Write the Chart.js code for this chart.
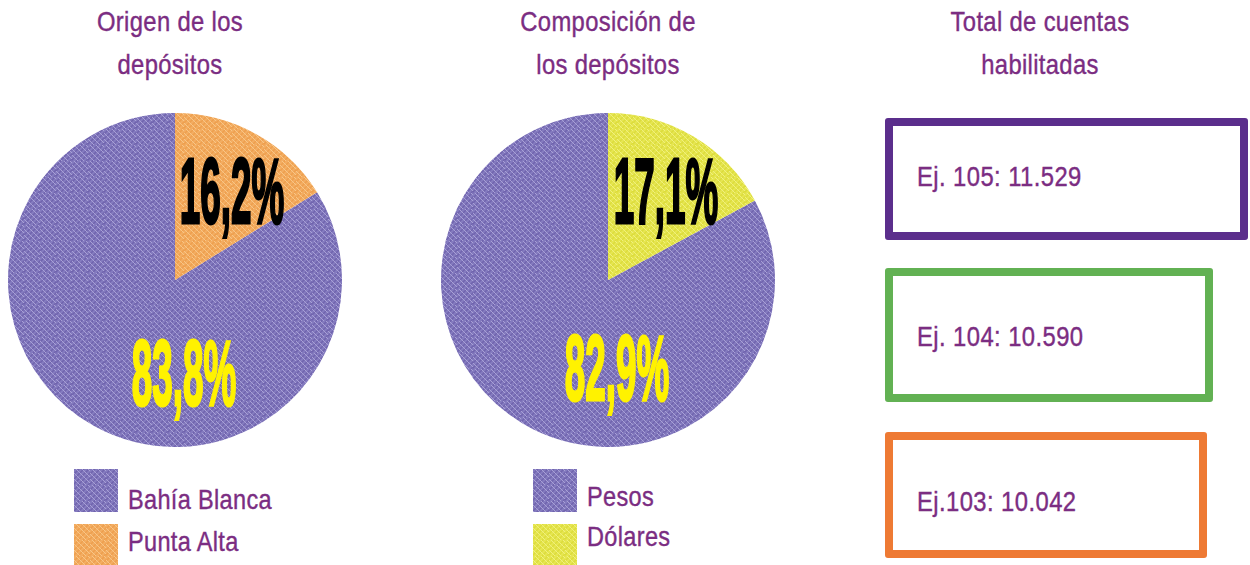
<!DOCTYPE html>
<html>
<head>
<meta charset="utf-8">
<script src="https://cdn.jsdelivr.net/npm/chart.js@4/dist/chart.umd.min.js"></script>
<style>
  body { margin: 0; background: #fff; width: 1250px; height: 565px; overflow: hidden; position: relative;
         font-family: "Liberation Sans Narrow", "Liberation Sans", sans-serif; color: #7b2d82; -webkit-text-stroke: 0.4px #7b2d82; }
  .title { position: absolute; width: 320px; text-align: center; font-size: 28px; line-height: 43px; letter-spacing: 0.4px;
           transform: scaleX(0.85); transform-origin: 50% 0; }
  .pie { position: absolute; width: 334px; height: 334px; }
  .legend { position: absolute; }
  .sw { position: absolute; width: 44px; height: 43px; }
  .lt { position: absolute; font-size: 28px; letter-spacing: 0.4px; white-space: nowrap; transform: scaleX(0.84); transform-origin: 0 0; }
  .box { position: absolute; box-sizing: border-box; border: 8px solid; border-radius: 3px; }
  .box span { position: absolute; left: 24px; font-size: 28px; letter-spacing: 0.5px; white-space: nowrap; transform: scaleX(0.85); transform-origin: 0 0; }
</style>
</head>
<body>
<div class="title" style="left:10px;top:0px">Origen de los<br>depósitos</div>
<div class="title" style="left:448px;top:0px">Composición de<br>los depósitos</div>
<div class="title" style="left:880px;top:0px">Total de cuentas<br>habilitadas</div>

<div class="pie" style="left:8px;top:113px"><canvas id="origen"></canvas></div>
<div class="pie" style="left:441px;top:113px"><canvas id="composicion"></canvas></div>

<div id="legendOrigen" class="legend" style="left:74px;top:469px"></div>
<div id="legendComposicion" class="legend" style="left:533px;top:469px"></div>

<div id="cuentas"></div>

<script>
const origenLabels = ['Bahía Blanca', 'Punta Alta'];
const origenValues = [83.8, 16.2];
const composicionLabels = ['Pesos', 'Dólares'];
const composicionValues = [82.9, 17.1];
const cuentasLabels = ['Ej. 105', 'Ej. 104', 'Ej.103'];
const cuentasValues = [11529, 10590, 10042];

// colored pencil like fill
function pencil(base, dark, light) {
  const c = document.createElement('canvas');
  c.width = 16; c.height = 16;
  const g = c.getContext('2d');
  g.fillStyle = base; g.fillRect(0, 0, 16, 16);
  g.lineWidth = 1.5;
  g.strokeStyle = dark;
  for (let i = -16; i < 32; i += 5) { g.beginPath(); g.moveTo(i, 16); g.lineTo(i + 16, 0); g.stroke(); }
  g.strokeStyle = light; g.lineWidth = 1;
  for (let i = -16; i < 32; i += 6) { g.beginPath(); g.moveTo(i, 0); g.lineTo(i + 16, 16); g.stroke(); }
  return c;
}
const purpleTex = pencil('#847bbf', '#7064ae', '#a8a0d6');
const orangeTex = pencil('#f3ad62', '#ee9f4e', '#f8c687');
const yellowTex = pencil('#e6e651', '#dcdc3c', '#f0f07e');

function pat(c) { return document.createElement('canvas').getContext('2d').createPattern(c, 'repeat'); }

function fmtPct(v) { return v.toFixed(1).replace('.', ',') + '%'; }

const pctLabels = {
  id: 'pctLabels',
  afterDatasetsDraw(chart, args, opts) {
    const ctx = chart.ctx;
    const arc = chart.getDatasetMeta(0).data[0];
    chart.data.datasets[0].data.forEach((v, i) => {
      const p = opts.pos[i];
      ctx.save();
      ctx.translate(arc.x + p[0], arc.y + p[1]);
      ctx.scale(0.4, 1);
      ctx.font = 'bold 92px "Liberation Sans", sans-serif';
      ctx.textAlign = 'center';
      ctx.textBaseline = 'alphabetic';
      ctx.fillStyle = opts.colors[i];
      ctx.strokeStyle = opts.colors[i];
      ctx.lineWidth = 3;
      ctx.fillText(fmtPct(v), 0, 0);
      ctx.strokeText(fmtPct(v), 0, 0);
      ctx.restore();
    });
  }
};

function makePie(id, labels, values, textures, textColors, pos) {
  const sum = values.reduce((a, b) => a + b, 0);
  return new Chart(document.getElementById(id), {
    type: 'pie',
    data: { labels: labels, datasets: [{ data: values, backgroundColor: textures.map(pat), borderWidth: 0 }] },
    options: {
      responsive: true, maintainAspectRatio: false, animation: false,
      rotation: 360 * values[1] / sum,
      layout: { padding: 0 },
      plugins: { legend: { display: false }, tooltip: { enabled: false },
                 pctLabels: { colors: textColors, pos: pos } }
    },
    plugins: [pctLabels]
  });
}

makePie('origen', origenLabels, origenValues, [purpleTex, orangeTex], ['#fff200', '#000'], [[9, 125], [57, -57]]);
makePie('composicion', composicionLabels, composicionValues, [purpleTex, yellowTex], ['#fff200', '#000'], [[9, 120], [58, -57]]);

function legend(id, labels, textures, textTops) {
  const el = document.getElementById(id);
  labels.forEach((l, i) => {
    const sw = document.createElement('div');
    sw.className = 'sw';
    sw.style.top = (i * 55) + 'px';
    sw.style.backgroundImage = 'url(' + textures[i].toDataURL() + ')';
    el.appendChild(sw);
    const t = document.createElement('div');
    t.className = 'lt';
    t.style.left = '54px';
    t.style.top = textTops[i] + 'px';
    t.textContent = l;
    el.appendChild(t);
  });
}
legend('legendOrigen', origenLabels, [purpleTex, orangeTex], [15, 57]);
legend('legendComposicion', composicionLabels, [purpleTex, yellowTex], [12, 52]);

const boxColors = ['#5b2e8c', '#62b153', '#ee7a34'];
const boxGeom = [[885, 118, 363, 122, 35], [885, 268, 328, 134, 45], [885, 432, 322, 126, 46]];
const cont = document.getElementById('cuentas');
cuentasLabels.forEach((l, i) => {
  const b = document.createElement('div');
  b.className = 'box';
  const g = boxGeom[i];
  b.style.left = g[0] + 'px'; b.style.top = g[1] + 'px';
  b.style.width = g[2] + 'px'; b.style.height = g[3] + 'px';
  b.style.borderColor = boxColors[i];
  const s = document.createElement('span');
  s.textContent = l + ': ' + cuentasValues[i].toLocaleString('de-DE');
  s.style.top = g[4] + 'px';
  b.appendChild(s);
  cont.appendChild(b);
});
</script>
</body>
</html>
